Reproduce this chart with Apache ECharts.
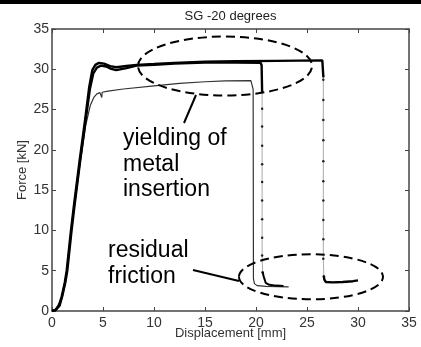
<!DOCTYPE html>
<html><head><meta charset="utf-8">
<script src="https://cdn.jsdelivr.net/npm/echarts@6/dist/echarts.min.js"></script>
<style>html,body{margin:0;padding:0;background:#fff}#c{width:421px;height:347px}</style>
</head><body><div id="c"></div>
<script>
// ---- Data ----
// Curve A (thick, long test): loading part
const dispA  = [0, 0.3, 0.7, 0.95, 1.25, 1.44, 1.86, 2.16, 2.7, 3.24, 3.65, 3.95, 4.25, 4.6, 5.1, 5.7, 6.3, 7.3, 8.3, 10, 12, 15, 18, 22, 26.5, 26.6];
const forceA = [0, 0.1, 0.7, 1.8, 3.5, 5.0, 10.0, 13.2, 18.6, 23.7, 27.8, 29.9, 30.55, 30.8, 30.7, 30.4, 30.25, 30.4, 30.55, 30.65, 30.8, 30.95, 31.0, 31.05, 31.1, 29.1];
// Curve A: sampled points during the sudden drop (dotted)
const dispAdrop  = [26.6, 26.6, 26.6, 26.6, 26.6, 26.6, 26.6, 26.6, 26.6, 26.6, 26.6, 26.65];
const forceAdrop = [29.1, 28.7, 26.2, 23.7, 21.2, 18.6, 16.1, 13.7, 11.3, 8.9, 6.5, 4.3];
// Curve A: residual friction
const dispAres  = [26.65, 26.7, 26.85, 27.5, 28.5, 29.5, 30.0];
const forceAres = [4.3, 3.9, 3.6, 3.55, 3.6, 3.7, 3.8];

// Curve B (thick, shorter test)
const dispB  = [0, 0.35, 0.75, 1.0, 1.3, 1.5, 1.92, 2.22, 2.76, 3.3, 3.72, 4.05, 4.4, 4.8, 5.3, 5.8, 6.3, 7.3, 8.3, 10, 12, 15, 18, 20.45, 20.55, 20.6];
const forceB = [0, 0.1, 0.7, 1.8, 3.5, 5.0, 10.0, 13.2, 18.6, 23.7, 27.6, 29.5, 30.2, 30.45, 30.35, 30.05, 29.9, 30.15, 30.45, 30.55, 30.7, 30.85, 30.85, 30.8, 30.5, 27.2];
const dispBdrop  = [20.6, 20.6, 20.6, 20.6, 20.6, 20.6, 20.6, 20.6, 20.6, 20.6, 20.65];
const forceBdrop = [27.2, 25.1, 22.9, 20.5, 18.2, 16.0, 13.7, 11.4, 9.1, 6.9, 4.8];
const dispBres  = [20.65, 20.75, 20.95, 21.3, 22.0, 22.7];
const forceBres = [4.8, 4.3, 3.5, 3.25, 3.15, 3.1];

// Curve C (thin)
const dispC  = [0, 0.35, 0.95, 1.46, 1.88, 2.2, 2.75, 3.3, 3.75, 4.1, 4.4, 4.7, 4.85, 4.88, 4.92, 5.5, 7, 10, 12.5, 15, 17, 19.5, 19.65, 19.72, 19.75, 19.85, 20.1, 21, 23.2];
const forceC = [0, 0.1, 1.7, 4.9, 9.8, 13.0, 18.3, 23.0, 25.5, 26.5, 26.95, 27.1, 27.15, 26.5, 27.15, 27.3, 27.55, 27.95, 28.25, 28.45, 28.55, 28.6, 28.5, 27.5, 4.0, 3.4, 3.15, 3.05, 3.0];

const xMin = 0, xMax = 35, xStep = 5;
const yMin = 0, yMax = 35, yStep = 5;
const titleText = 'SG -20 degrees';
const xName = 'Displacement [mm]';
const yName = 'Force [kN]';
const note1 = ['yielding of', 'metal', 'insertion'];
const note2 = ['residual', 'friction'];

function pairs(xs, ys){ return xs.map((x,i)=>[x, ys[i]]); }

const FONT = 'Liberation Sans, Arial, sans-serif';
const chart = echarts.init(document.getElementById('c'), null, {renderer:'canvas'});

const thick = {type:'line', showSymbol:false, symbol:'none', animation:false, lineStyle:{color:'#000', width:2.4}, z:3};
const dotted = {type:'line', symbol:'circle', symbolSize:2.5, showSymbol:true, animation:false,
  itemStyle:{color:'#222'}, lineStyle:{color:'#aaa', width:1}, z:2};

const axisCommon = {
  min: xMin, max: xMax, interval: xStep,
  axisLine:{show:true, onZero:false, lineStyle:{color:'#444', width:1.5}},
  axisTick:{show:true, inside:true, length:4, lineStyle:{color:'#444', width:1}},
  splitLine:{show:false},
};

chart.setOption({
  animation:false,
  backgroundColor:'#fff',
  grid:{left:52, right:12, top:29, bottom:36, containLabel:false},
  xAxis:[
    Object.assign({}, axisCommon, {type:'value', position:'bottom',
      axisLabel:{fontSize:14, color:'#333', fontFamily:FONT, margin:5},
      name:xName, nameLocation:'middle', nameGap:16, nameMoveOverlap:false,
      nameTextStyle:{fontSize:13, color:'#333', fontFamily:FONT}}),
    Object.assign({}, axisCommon, {type:'value', position:'top', axisLabel:{show:false}})
  ],
  yAxis:[
    Object.assign({}, axisCommon, {type:'value', min:yMin, max:yMax, interval:yStep, position:'left',
      axisLabel:{fontSize:14, color:'#333', fontFamily:FONT, margin:3},
      name:yName, nameLocation:'middle', nameGap:23, nameMoveOverlap:false,
      nameTextStyle:{fontSize:13, color:'#333', fontFamily:FONT}}),
    Object.assign({}, axisCommon, {type:'value', min:yMin, max:yMax, interval:yStep, position:'right', axisLabel:{show:false}})
  ],
  series:[
    Object.assign({}, thick, {name:'A', data:pairs(dispA, forceA)}),
    Object.assign({}, dotted, {name:'A drop', data:pairs(dispAdrop, forceAdrop)}),
    Object.assign({}, thick, {name:'A res', data:pairs(dispAres, forceAres)}),
    Object.assign({}, thick, {name:'B', data:pairs(dispB, forceB)}),
    Object.assign({}, dotted, {name:'B drop', data:pairs(dispBdrop, forceBdrop)}),
    Object.assign({}, thick, {name:'B res', data:pairs(dispBres, forceBres), lineStyle:{color:'#000', width:2}}),
    {type:'line', name:'C', showSymbol:false, symbol:'none', animation:false,
      lineStyle:{color:'#333', width:1.2}, data:pairs(dispC, forceC), z:2}
  ],
  graphic:[
    {type:'rect', shape:{x:0, y:0, width:421, height:4}, style:{fill:'#000'}},
    {type:'text', x:230.5, y:16.5, style:{text:titleText, font:'13px '+FONT, fill:'#222', align:'center', verticalAlign:'middle'}},
    {type:'ellipse', shape:{cx:225, cy:66, rx:87, ry:29.5}, style:{fill:'none', stroke:'#000', lineWidth:2, lineDash:[9,5]}, z:10},
    {type:'ellipse', shape:{cx:311, cy:276.8, rx:72, ry:22.5}, style:{fill:'none', stroke:'#000', lineWidth:2, lineDash:[9,5]}, z:10},
    {type:'line', shape:{x1:196, y1:95, x2:184, y2:123}, style:{stroke:'#000', lineWidth:2}, z:10},
    {type:'line', shape:{x1:193, y1:270, x2:239, y2:281}, style:{stroke:'#000', lineWidth:2}, z:10},
    {type:'text', x:123, y:138.4, style:{text:note1[0], font:'23px '+FONT, fill:'#000', verticalAlign:'middle'}, z:10},
    {type:'text', x:123, y:165, style:{text:note1[1], font:'23px '+FONT, fill:'#000', verticalAlign:'middle'}, z:10},
    {type:'text', x:123, y:190, style:{text:note1[2], font:'23px '+FONT, fill:'#000', verticalAlign:'middle'}, z:10},
    {type:'text', x:108, y:251, style:{text:note2[0], font:'23px '+FONT, fill:'#000', verticalAlign:'middle'}, z:10},
    {type:'text', x:108, y:276.7, style:{text:note2[1], font:'23px '+FONT, fill:'#000', verticalAlign:'middle'}, z:10}
  ]
});
</script></body></html>
